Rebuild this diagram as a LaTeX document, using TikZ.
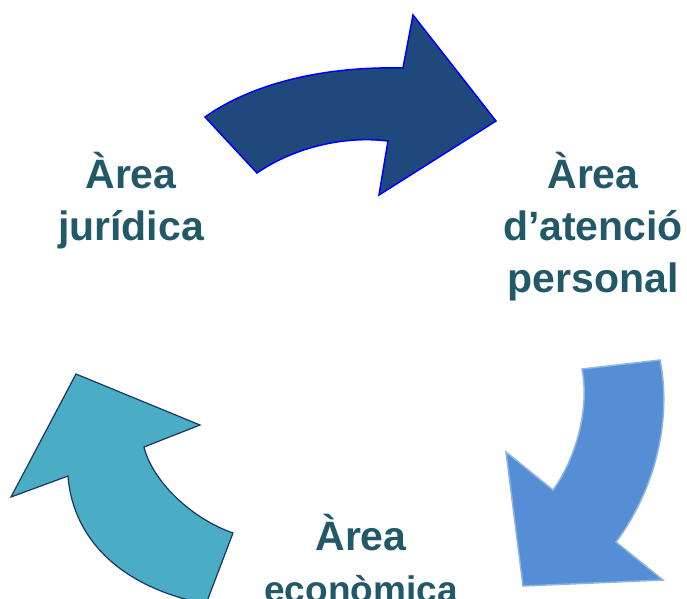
\documentclass[tikz,border=0pt]{standalone}
\usepackage{fontspec}
\setmainfont{Liberation Sans}
\definecolor{textteal}{RGB}{33,89,104}
\definecolor{darkfill}{RGB}{31,73,125}
\definecolor{midfill}{RGB}{85,142,213}
\definecolor{midline}{RGB}{142,180,227}
\definecolor{tealfill}{RGB}{75,172,198}
\definecolor{tealline}{RGB}{23,55,94}
\begin{document}
\begin{tikzpicture}
		[x=1pt,y=-1pt,
		areatext/.style={inner sep=0pt,anchor=base,align=center,text=textteal,
			font=\bfseries\fontsize{41}{52}\selectfont}]
		
		\useasboundingbox (0,0) rectangle (687,598);
		\clip (0,0) rectangle (687,598);
		
		% arrow at the top
		\draw[fill=darkfill,draw=blue,line width=1.5pt,line join=miter]
		(205,117) .. controls (250,85) and (320,66) .. (403,68)
		-- (413,15) -- (496,121) -- (379,195) -- (388,141)
		.. controls (340,135) and (290,150) .. (257,173) -- cycle;
		
		% arrow at the right
		\draw[fill=midfill,draw=midline,line width=1.5pt,line join=miter]
		(660,360) .. controls (672,420) and (655,490) .. (616,542)
		-- (663,580) -- (523,586) -- (506,452) -- (553,490)
		.. controls (575,460) and (590,410) .. (582,369) -- cycle;
		
		% arrow at the left
		\draw[fill=tealfill,draw=tealline,line width=1.2pt,line join=miter]
		(206,604) .. controls (110,585) and (72,530) .. (68,476)
		-- (11,497) -- (76,374) -- (200,425) -- (144,447)
		.. controls (152,480) and (190,518) .. (233,533) -- cycle;
		
		% last line sits on the given baseline
		\node[areatext] (juridica) at (131,240) {Àrea\\jurídica};
		\node[areatext] (atencio) at (593,292) {Àrea\\d’atenció\\personal};
		\node[areatext] (economica) at (361,602) {Àrea\\{\fontsize{37}{52}\selectfont econòmica}};
	
	\end{tikzpicture}
\end{document}
